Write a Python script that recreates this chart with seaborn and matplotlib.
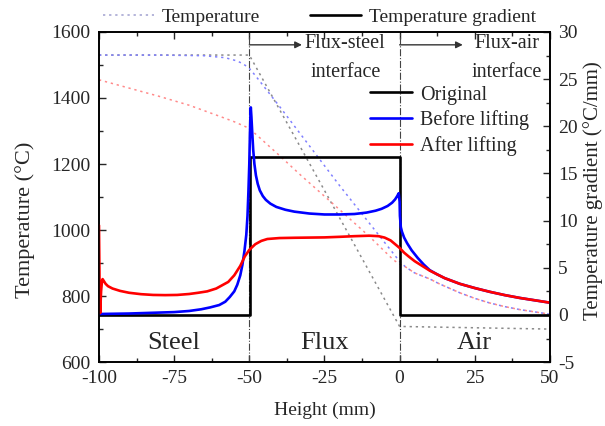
import matplotlib
matplotlib.use("Agg")
import matplotlib.pyplot as plt
import seaborn as sns
from matplotlib.lines import Line2D
from matplotlib.ticker import MultipleLocator

sns.set_style("ticks")
plt.rcParams["font.family"] = ["Liberation Serif", "DejaVu Serif"]
plt.rcParams["axes.unicode_minus"] = False

# temperature profiles (left axis, degC)
x_orig_T = [-100, -50, -25, 0, 50]
t_orig = [1530, 1530, 1120, 708, 700]

x_before_T = [-100, -80, -65, -58, -54, -52, -50, -48, -40, -30, -20, -10, 0,
              2, 5, 10, 13, 20, 25, 30, 35, 40, 45, 50]
t_before = [1530, 1530, 1528, 1522, 1512, 1503, 1490, 1468, 1375, 1255, 1135, 1020, 905,
            888, 870, 852, 838, 810, 793, 779, 768, 759, 752, 745]

x_after_T = [-100, -90, -80, -70, -60, -55, -50, -40, -33, -20, -10, -2, 0,
             2, 5, 10, 13, 20, 25, 30, 35, 40, 45, 50]
t_after = [1455, 1430, 1405, 1378, 1345, 1328, 1308, 1226, 1167, 1062, 980, 909, 897,
           888, 870, 852, 838, 810, 793, 779, 768, 759, 752, 745]

# temperature gradients (right axis, degC/mm)
x_orig_G = [-100, -49.8, -49.8, 0, 0, 50]
g_orig = [0, 0, 16.7, 16.7, 0, 0]

x_before_G = [-100, -90, -80, -75, -70, -66, -63, -60, -58, -56.5, -55, -54, -53, -52.3,
              -51.6, -51, -50.6, -50.3, -50.0, -49.8, -49.6, -49.5, -49.3, -49.0, -48.7,
              -48.3, -47.8, -47.2, -46.5, -45.5, -44.5, -43, -41, -38, -35, -30, -25, -20,
              -15, -11, -8, -6, -4, -2.5, -1.5, -0.8, -0.3, 0, 0.1, 0.4, 0.8, 1.5, 2.5, 4,
              6, 8, 10, 12.5, 15, 20, 25, 30, 35, 40, 45, 50]
g_before = [0.1, 0.15, 0.25, 0.3, 0.42, 0.6, 0.8, 1.05, 1.4, 1.9, 2.5, 3.2, 4.2, 5.3,
            6.8, 8.5, 10.5, 13, 16, 19, 21.5, 22, 21, 19.2, 17.5,
            16, 14.8, 13.9, 13.2, 12.6, 12.2, 11.8, 11.45, 11.15, 10.95, 10.75, 10.65, 10.65,
            10.7, 10.85, 11.05, 11.25, 11.55, 11.9, 12.25, 12.6, 12.9, 12.0, 10.5, 9.3, 8.8, 8.2, 7.6, 6.85,
            6.05, 5.35, 4.75, 4.3, 3.9, 3.3, 2.85, 2.45, 2.1, 1.8, 1.55, 1.3]

x_after_G = [-100, -99.8, -99.6, -99.3, -99, -98.8, -98.4, -97.8, -97, -95.5, -93, -90, -86,
             -82, -78, -74, -70, -67, -64, -61, -59, -57, -55, -53, -51.5, -50, -48, -46,
             -44, -40, -35, -30, -25, -20, -15, -10, -7, -5, -3, -1.5, 0, 1.5, 3, 5, 7.5,
             10, 12.5, 15, 20, 25, 30, 35, 40, 45, 50]
g_after = [9.5, 3.0, 0.2, 2.5, 3.6, 3.8, 3.6, 3.3, 3.05, 2.8, 2.55, 2.35, 2.2,
           2.12, 2.1, 2.12, 2.22, 2.35, 2.5, 2.8, 3.15, 3.5, 4.2, 5.2, 6.2, 6.9, 7.5, 7.85,
           8.05, 8.15, 8.18, 8.2, 8.22, 8.28, 8.35, 8.4, 8.35, 8.2, 7.9, 7.5, 7.1, 6.6, 6.2, 5.7, 5.2,
           4.7, 4.3, 3.9, 3.3, 2.85, 2.45, 2.1, 1.8, 1.55, 1.3]

region_labels = ["Steel", "Flux", "Air"]
region_x = [-75, -25, 25]

fig = plt.figure(figsize=(6.05, 4.26), dpi=100)
ax = fig.add_axes([0.1636, 0.150, 0.7454, 0.775])
ax2 = ax.twinx()

dots = (1.5, 2.5)
sns.lineplot(x=x_orig_T, y=t_orig, ax=ax, color="#8a8a8a", lw=1.1, sort=False, estimator=None).lines[-1].set_dashes(dots)
sns.lineplot(x=x_before_T, y=t_before, ax=ax, color="#8080ff", lw=1.1, sort=False, estimator=None).lines[-1].set_dashes(dots)
sns.lineplot(x=x_after_T, y=t_after, ax=ax, color="#ff8a8a", lw=1.1, sort=False, estimator=None).lines[-1].set_dashes(dots)

for xv in [-50, 0]:
    ax.axvline(xv, color="#444444", lw=0.8, ls="-.")

sns.lineplot(x=x_orig_G, y=g_orig, ax=ax2, color="black", lw=1.9, sort=False, estimator=None, label="Original")
sns.lineplot(x=x_before_G, y=g_before, ax=ax2, color="#0000ff", lw=1.9, sort=False, estimator=None, label="Before lifting")
sns.lineplot(x=x_after_G, y=g_after, ax=ax2, color="#ff0000", lw=1.9, sort=False, estimator=None, label="After lifting")

ax.set_xlim(-100, 50)
ax.set_ylim(600, 1600)
ax2.set_ylim(-5, 30)
ax.set_xticks([-100, -75, -50, -25, 0, 25, 50])
ax.xaxis.set_minor_locator(MultipleLocator(12.5))
ax.yaxis.set_major_locator(MultipleLocator(200))
ax.yaxis.set_minor_locator(MultipleLocator(100))
ax2.yaxis.set_major_locator(MultipleLocator(5))
ax2.yaxis.set_minor_locator(MultipleLocator(2.5))

ax.tick_params(which="both", direction="in", top=True, labelsize=14, pad=6, width=1)
ax.tick_params(which="major", length=5)
ax.tick_params(which="minor", length=3)
ax2.tick_params(which="both", direction="in", labelsize=14, pad=6, width=1)
ax2.tick_params(which="major", length=5)
ax2.tick_params(which="minor", length=3)
for a in (ax, ax2):
    for s in a.spines.values():
        s.set_visible(True)
        s.set_linewidth(1.2)
        s.set_color("black")

ax.set_xlabel("Height (mm)", fontsize=14, labelpad=10)
ax.set_ylabel("Temperature (°C)", fontsize=16, labelpad=12)
ax.yaxis.label.set_y(0.43)
ax2.set_ylabel("Temperature gradient (°C/mm)", fontsize=15, labelpad=4)
ax2.yaxis.label.set_y(0.52)

for lab, xv in zip(region_labels, region_x):
    ax.text(xv, 658, lab, fontsize=19, ha="center", va="center")

arrow = dict(arrowstyle="-|>", color="#333333", lw=1, mutation_scale=10, shrinkA=0, shrinkB=0)
ax.annotate("", xy=(-32.5, 1561), xytext=(-50, 1561), arrowprops=arrow)
ax.annotate("", xy=(21, 1561), xytext=(0, 1561), arrowprops=arrow)
ax.text(-31.5, 1594, "Flux-steel\ninterface", fontsize=14.5, ha="left", va="top",
        multialignment="center", linespacing=1.7)
ax.text(24, 1594, "Flux-air\ninterface", fontsize=14.5, ha="left", va="top",
        multialignment="center", linespacing=1.7)

ax2.legend(loc="upper left", bbox_to_anchor=(0.6, 0.838), frameon=False, fontsize=14.5,
           handlelength=2.1, handletextpad=0.4, labelspacing=0.28, borderpad=0, borderaxespad=0)

top_handles = [Line2D([], [], color="#a0a0d0", lw=1.1, dashes=dots),
               Line2D([], [], color="black", lw=1.9)]
fig.legend(top_handles, ["Temperature", "Temperature gradient"], loc="lower center",
           bbox_to_anchor=(0.528, 0.912), ncol=2, frameon=False, fontsize=14,
           handlelength=2.6, handletextpad=0.4, columnspacing=2.6, borderpad=0.1)

fig.savefig("out.png", dpi=100)
plt.close(fig)
